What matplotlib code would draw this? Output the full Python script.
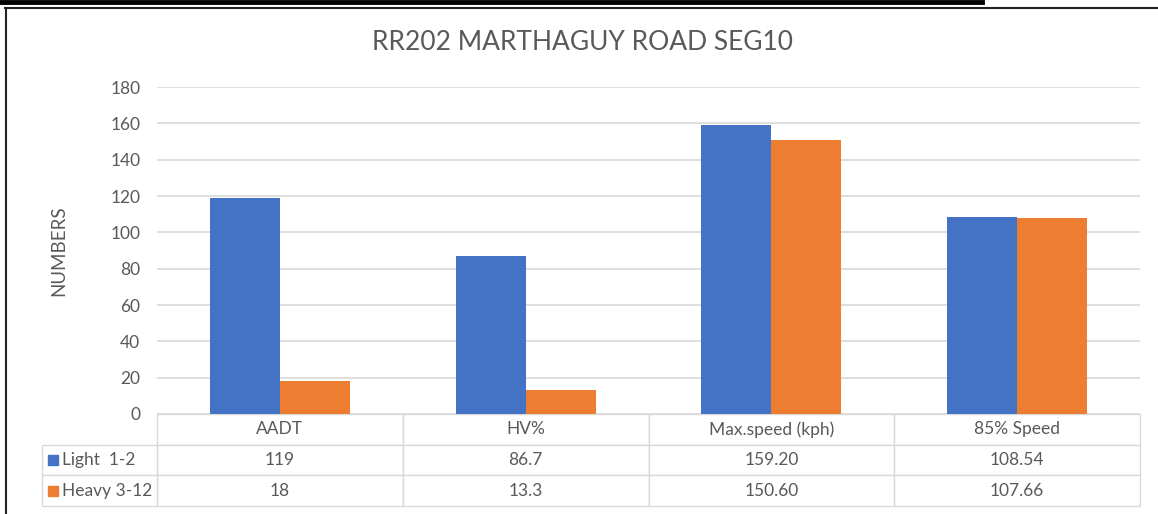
import matplotlib.pyplot as plt
from matplotlib.patches import Rectangle
from matplotlib.lines import Line2D
import numpy as np

plt.rcParams['font.family'] = ['Lato', 'DejaVu Sans']

categories = ['AADT', 'HV%', 'Max.speed (kph)', '85% Speed']
light = [119, 86.7, 159.20, 108.54]
heavy = [18, 13.3, 150.60, 107.66]
light_labels = ['119', '86.7', '159.20', '108.54']
heavy_labels = ['18', '13.3', '150.60', '107.66']
series_names = ['Light  1-2', 'Heavy 3-12']
yticks = [0, 20, 40, 60, 80, 100, 120, 140, 160, 180]

blue = '#4472C4'
orange = '#ED7D31'
text_col = '#595959'
grid_col = '#D9D9D9'

W, H = 1158, 514
fig = plt.figure(figsize=(W / 100, H / 100), dpi=100)

# axes in pixel terms: x 157..1140, y 87..414 (from top)
ax = fig.add_axes([157 / W, 1 - 414 / H, (1140 - 157) / W, (414 - 87) / H])
ax_w = 1140 - 157
ax_h = 414 - 87

x = np.arange(len(categories))
bw = 0.285
ax.bar(x - bw / 2, light, bw, color=blue, zorder=3)
ax.bar(x + bw / 2, heavy, bw, color=orange, zorder=3)

ax.set_xlim(-0.5, len(categories) - 0.5)
ax.set_ylim(0, 180)
ax.set_yticks(yticks)
ax.set_yticklabels([str(t) for t in yticks], fontsize=12.5, color=text_col)
ax.tick_params(axis='y', length=0, pad=12)
ax.set_xticks([])
ax.grid(axis='y', color=grid_col, linewidth=1.2, zorder=0)
for s in ax.spines.values():
    s.set_visible(False)

ax.set_ylabel('NUMBERS', fontsize=13.5, color=text_col, labelpad=31)

fig.text(582 / W, 1 - 43 / H, 'RR202 MARTHAGUY ROAD SEG10', ha='center', va='center',
         fontsize=19, color=text_col)

# data table under the bars
tbl_h = (506 - 414) / ax_h
tb = ax.table(cellText=[light_labels, heavy_labels], colLabels=categories,
              cellLoc='center', bbox=[0, -tbl_h, 1, tbl_h])
# row label column on the left
rl = ax.table(cellText=[[n] for n in series_names], cellLoc='left',
              bbox=[(42 - 157) / ax_w, -tbl_h, (157 - 42) / ax_w, tbl_h * 2 / 3])
for t in (tb, rl):
    t.auto_set_font_size(False)
    for (r, c), cell in t.get_celld().items():
        cell.set_edgecolor(grid_col)
        cell.set_linewidth(1.0)
        cell.get_text().set_color(text_col)
        cell.get_text().set_fontsize(12.5)
for cell in rl.get_celld().values():
    cell.PAD = 0.17

# legend keys inside the row label cells
for i, col in enumerate([blue, orange]):
    yc = -tbl_h * (1 / 3 + 1 / 6) - tbl_h / 3 * i
    ax.add_patch(Rectangle(((48 - 157) / ax_w, yc - 5 / ax_h), 10 / ax_w, 10 / ax_h,
                           transform=ax.transAxes, color=col, clip_on=False, zorder=5))

# outer frame and top bar
fig.add_artist(Line2D([0, 982 / W], [1 - 1.5 / H, 1 - 1.5 / H], color='black', linewidth=3.5))
fig.add_artist(Line2D([5 / W, 1], [1 - 7.5 / H, 1 - 7.5 / H], color='#222222', linewidth=1.5))
fig.add_artist(Line2D([5.5 / W, 5.5 / W], [0, 1 - 7.5 / H], color='#222222', linewidth=1.5))

fig.savefig('out.png', dpi=100)
